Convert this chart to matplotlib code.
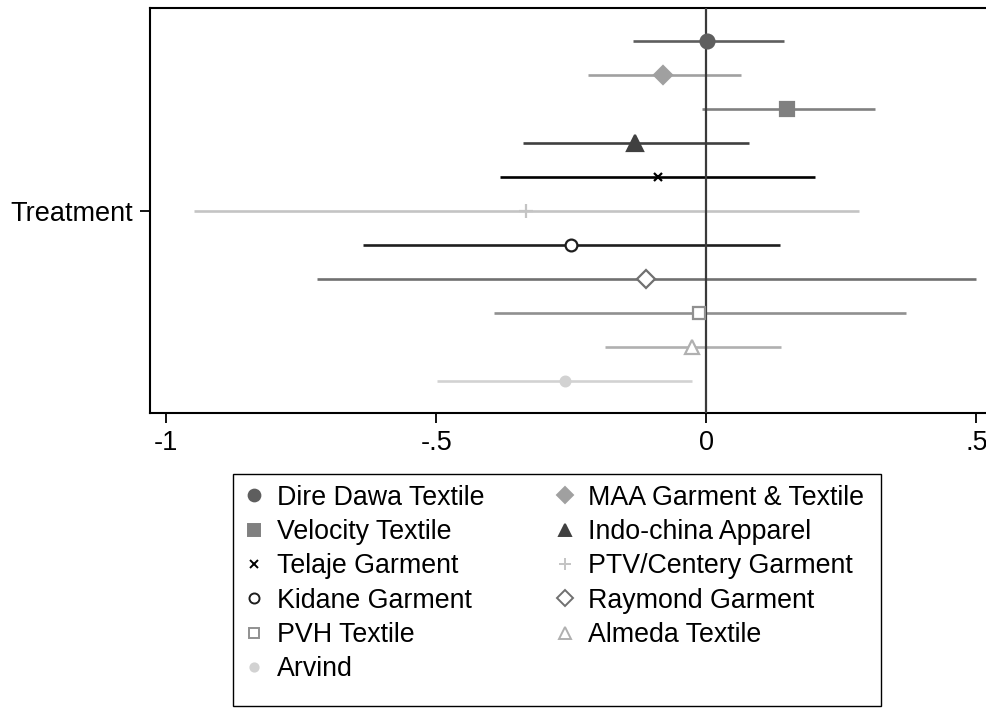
import matplotlib
matplotlib.use("Agg")
import matplotlib.pyplot as plt
from matplotlib.lines import Line2D
from matplotlib.patches import Rectangle

plt.rcParams['font.family'] = ['Liberation Sans', 'DejaVu Sans']

# coefficient estimates and 95% CIs, one row per firm (top to bottom)
firms = ["Dire Dawa Textile", "MAA Garment & Textile", "Velocity Textile",
         "Indo-china Apparel", "Telaje Garment", "PTV/Centery Garment",
         "Kidane Garment", "Raymond Garment", "PVH Textile",
         "Almeda Textile", "Arvind"]
coef = [0.002, -0.080, 0.150, -0.132, -0.090, -0.334, -0.251, -0.112, -0.013, -0.026, -0.262]
ci_lo = [-0.136, -0.220, -0.008, -0.340, -0.382, -0.948, -0.635, -0.721, -0.394, -0.188, -0.498]
ci_hi = [0.144, 0.064, 0.312, 0.078, 0.202, 0.282, 0.136, 0.500, 0.370, 0.138, -0.026]
xticks = [-1, -0.5, 0, 0.5]
xticklabels = ["-1", "-.5", "0", ".5"]

# stata s2mono-ish styling
colors = ["#5e5e5e", "#a0a0a0", "#808080", "#404040", "#000000", "#c4c4c4",
          "#1e1e1e", "#707070", "#909090", "#b0b0b0", "#d2d2d2"]
markers = ["o", "D", "s", "^", "x", "+", "o", "D", "s", "^", "o"]
filled = [True, True, True, True, True, True, False, False, False, False, True]
msizes = [10, 9, 10.5, 11, 6, 10, 8.5, 9, 9, 9.5, 7]

W, H = 987, 711
fig = plt.figure(figsize=(W / 100, H / 100), dpi=100)
ax = fig.add_axes([150/W, 298/H, 837/W, 405/H])

handles = []
for i, name in enumerate(firms):
    y = i + 1
    c = colors[i]
    ax.plot([ci_lo[i], ci_hi[i]], [y, y], color=c, lw=1.9, solid_capstyle='butt', zorder=2)
    mfc = c if filled[i] else 'white'
    ax.plot(coef[i], y, marker=markers[i], ms=msizes[i], color=c, mfc=mfc,
            mec=c, mew=1.6, ls='none', zorder=4)
    handles.append(Line2D([], [], marker=markers[i], ms=msizes[i] * 0.85, color=c,
                          mfc=mfc, mec=c, mew=1.4, ls='none', label=name))

ax.axvline(0, color="#3a3a3a", lw=1.6, zorder=3)

ax.set_xlim(-1.030, 0.5195)
ax.set_ylim(11.95, 0.03)
ax.set_xticks(xticks)
ax.set_xticklabels(xticklabels)
ax.set_yticks([6])
ax.set_yticklabels(["Treatment"])
ax.tick_params(axis='both', labelsize=19.5, length=7, width=1.3, direction='out', pad=5)
for s in ['left', 'bottom', 'top']:
    ax.spines[s].set_linewidth(1.5)
ax.spines['right'].set_visible(False)

# legend: row-wise order, 2 columns
order = [0, 2, 4, 6, 8, 10, 1, 3, 5, 7, 9]
leg = fig.legend([handles[k] for k in order], [firms[k] for k in order],
                 loc='upper left', bbox_to_anchor=(233/W, 1 - 474/H),
                 ncol=2, fontsize=19.3, frameon=False, borderaxespad=0,
                 handlelength=0.8, handletextpad=0.45, columnspacing=2.6,
                 labelspacing=0.31, borderpad=0.4)

# legend box (stata leaves extra room under the last row)
fig.patches.append(Rectangle((233/W, 1 - 706/H), 648/W, 232/H, transform=fig.transFigure,
                             fill=False, edgecolor='black', lw=1.0))

fig.savefig("out.png", dpi=100)
